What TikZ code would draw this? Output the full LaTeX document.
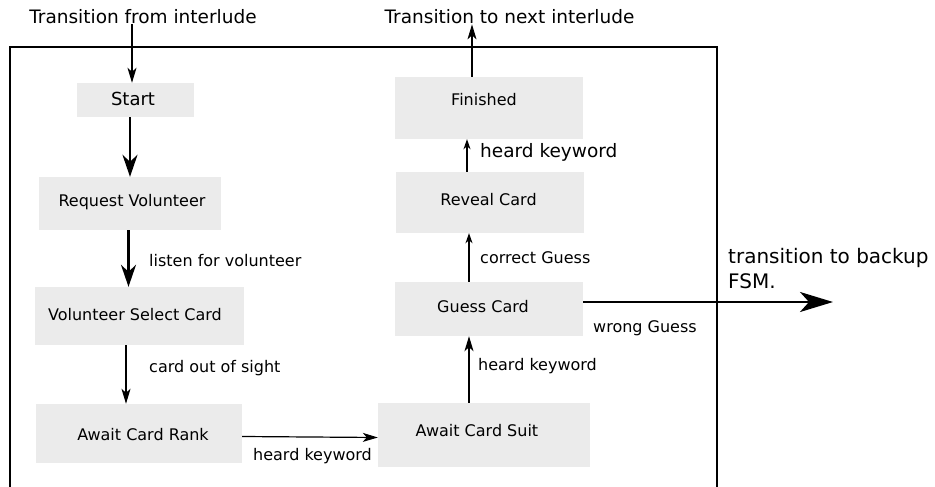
\documentclass[tikz,border=0pt]{standalone}
\usepackage{fontspec}
\setmainfont{DejaVu Sans}
\usetikzlibrary{arrows.meta}
\definecolor{boxgray}{RGB}{235,235,235}
\tikzset{
  statebox/.style={fill=boxgray, draw=none, inner sep=0pt},
  stxt/.style={inner sep=0pt, font=\fontsize{16}{19}\selectfont},
  bigtxt/.style={inner sep=0pt, font=\fontsize{18.5}{22}\selectfont},
  thin arr/.style={line width=1.2pt, -{Stealth[length=15pt,width=9pt,inset=4pt]}},
  small arr/.style={line width=1.2pt, -{Stealth[length=10pt,width=7pt,inset=3pt]}},
  thick arr/.style={line width=2.5pt, -{Stealth[length=22pt,width=15pt,inset=7pt]}},
}
\begin{document}
\begin{tikzpicture}[x=1pt,y=-1pt]
\useasboundingbox (0,0) rectangle (935,487);
% frame (bottom edge lies below the picture)
\draw[line width=2pt] (10,487) -- (10,47) -- (717,47) -- (717,487);

% boxes
\node[statebox, minimum width=117pt, minimum height=34pt] (start) at (135.5,100) {};
\node[statebox, minimum width=182pt, minimum height=53pt] (req) at (130,203.5) {};
\node[statebox, minimum width=209pt, minimum height=58pt] (vsel) at (139.5,316) {};
\node[statebox, minimum width=206pt, minimum height=59pt] (rank) at (139,433.5) {};
\node[statebox, minimum width=188pt, minimum height=62pt] (fin) at (489,108) {};
\node[statebox, minimum width=188pt, minimum height=61pt] (rev) at (490,202.5) {};
\node[statebox, minimum width=188pt, minimum height=54pt] (guess) at (489,309) {};
\node[statebox, minimum width=212pt, minimum height=64pt] (suit) at (484,435) {};

% box texts
\node[inner sep=0pt, font=\fontsize{18}{21}\selectfont] (startT) at (133,99) {Start};
\node[stxt] (reqT) at (132,202) {Request Volunteer};
\node[stxt] (vselT) at (135,315) {Volunteer Select Card};
\node[stxt] (rankT) at (143,435) {Await Card Rank};
\node[stxt] (finT) at (484,100) {Finished};
\node[stxt] (revT) at (488.5,200) {Reveal Card};
\node[stxt] (guessT) at (483,307) {Guess Card};
\node[stxt] (suitT) at (477,431) {Await Card Suit};

% outside texts
\node[bigtxt] (tfrom) at (143,17) {Transition from interlude};
\node[bigtxt] (tnext) at (509.5,17) {Transition to next interlude};
\node[inner sep=0pt, anchor=west, align=left, font=\fontsize{20}{25}\selectfont] (backup) at (728,269) {transition to backup\\FSM.};

% edge labels
\node[stxt, anchor=west] (l1) at (149,261) {listen for volunteer};
\node[stxt, anchor=west] (l2) at (149,368) {card out of sight};
\node[stxt, anchor=west] (l3) at (253,456) {heard keyword};
\node[stxt, anchor=west] (l4) at (478,366) {heard keyword};
\node[stxt, anchor=west] (l5) at (480,258) {correct Guess};
\node[stxt, anchor=west] (l6) at (593,328) {wrong Guess};
\node[bigtxt, anchor=west] (l7) at (480,152) {heard keyword};

% end points
\coordinate (fsm) at (833,302);

% connectors
\draw[thin arr] (tfrom.south -| 132,0) -- (start.north -| 132,0);
\draw[thick arr] (start.south -| 130,0) -- (req.north -| 130,0);
\draw[thick arr] (req.south -| 128.5,0) -- (vsel.north -| 128.5,0);
\draw[thin arr] (vsel.south -| 126,0) -- (rank.north -| 126,0);
\draw[thin arr] (rank.east |- 0,436.5) -- (suit.west |- 0,437.5);
\draw[thin arr] (suit.north -| 469,0) -- (guess.south -| 469,0);
\draw[small arr] (guess.north -| 469,0) -- (rev.south -| 469,0);
\draw[small arr] (rev.north -| 467,0) -- (fin.south -| 467,0);
\draw[thin arr] (fin.north -| 472,0) -- (tnext.south -| 472,0);
\draw[line width=2.5pt, -{Stealth[length=33pt,width=20pt,inset=9pt]}] (guess.east |- 0,302) -- (fsm);
\end{tikzpicture}
\end{document}
